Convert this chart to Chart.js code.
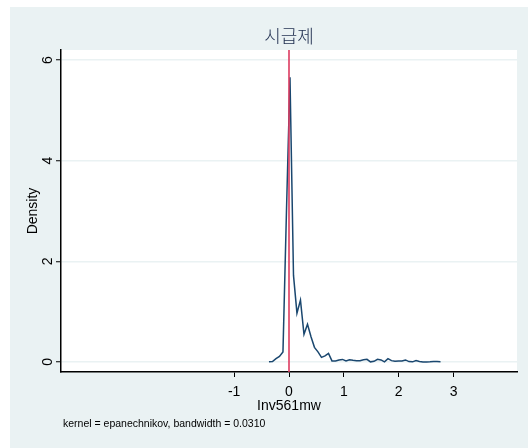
<!DOCTYPE html>
<html>
<head>
<meta charset="utf-8">
<script src="https://cdn.jsdelivr.net/npm/chart.js@4/dist/chart.umd.min.js"></script>
<style>
  html, body { margin: 0; padding: 0; background: #ffffff; }
  #c { display: block; }
</style>
</head>
<body>
<canvas id="c" width="528" height="448"></canvas>
<script>
// ---- data ----
const titleText = '시급제';
const xAxisTitle = 'Inv561mw';
const yAxisTitle = 'Density';
const noteText = 'kernel = epanechnikov, bandwidth = 0.0310';

const densityX = [-0.365, -0.301, -0.237, -0.174, -0.110, -0.046, 0.018, 0.082, 0.145, 0.209,
  0.273, 0.337, 0.401, 0.464, 0.528, 0.592, 0.656, 0.720, 0.783, 0.847,
  0.911, 0.975, 1.039, 1.102, 1.166, 1.230, 1.294, 1.358, 1.421, 1.485,
  1.549, 1.613, 1.677, 1.740, 1.804, 1.868, 1.932, 1.996, 2.059, 2.123,
  2.187, 2.251, 2.315, 2.378, 2.442, 2.506, 2.570, 2.634, 2.697, 2.761];
const densityY = [0.004, 0.008, 0.066, 0.11, 0.20, 3.0, 5.66, 1.72, 0.97, 1.23,
  0.55, 0.75, 0.50, 0.29, 0.20, 0.09, 0.12, 0.17, 0.02, 0.02,
  0.04, 0.05, 0.02, 0.045, 0.033, 0.026, 0.026, 0.045, 0.053, 0.002,
  0.013, 0.053, 0.04, 0.002, 0.066, 0.026, 0.013, 0.02, 0.02, 0.04,
  0.007, 0.002, 0.026, 0.007, 0.0, 0.0, 0.002, 0.007, 0.007, 0.004];

const xLineAt = [0];
const xTicks = [-1, 0, 1, 2, 3];
const xTickLabels = ['-1', '0', '1', '2', '3'];
const yTicks = [0, 2, 4, 6];
const yTickLabels = ['0', '2', '4', '6'];
const xRange = [-4.155, 4.155];
const yRange = [-0.2, 6.2];

// ---- styles ----
const FONT = "'Liberation Sans', Arial, Helvetica, sans-serif";
const OUTER_BG = '#eaf2f3';
const GRID = '#eaf2f3';
const LINE = '#1a476f';
const REDLINE = '#dc3a60';

const bgPlugin = {
  id: 'stataBg',
  beforeDraw(chart) {
    const ctx = chart.ctx;
    const a = chart.chartArea;
    ctx.save();
    ctx.fillStyle = '#ffffff';
    ctx.fillRect(0, 0, chart.width, chart.height);
    ctx.fillStyle = OUTER_BG;
    ctx.fillRect(10, 7, chart.width - 10, chart.height - 7);
    ctx.fillStyle = '#ffffff';
    ctx.fillRect(a.left, a.top, a.right - a.left, a.bottom - a.top);
    ctx.restore();
  },
  afterDraw(chart) {
    const ctx = chart.ctx;
    const a = chart.chartArea;
    ctx.save();
    // title, centred over the plot region
    ctx.fillStyle = '#1e2d4e';
    ctx.font = "300 18px 'Noto Sans CJK KR', sans-serif";
    ctx.textAlign = 'center';
    ctx.textBaseline = 'middle';
    ctx.fillText(titleText, (a.left + a.right) / 2, 36);
    // note
    ctx.fillStyle = '#000000';
    ctx.font = '10.5px ' + FONT;
    ctx.textAlign = 'left';
    ctx.textBaseline = 'middle';
    ctx.fillText(noteText, 63, 424);
    ctx.restore();
  }
};

const densityPoints = densityX.map((x, i) => ({ x: x, y: densityY[i] }));
const xLinePoints = [{ x: xLineAt[0], y: yRange[0] }, { x: xLineAt[0], y: yRange[1] }];

new Chart(document.getElementById('c'), {
  type: 'line',
  data: {
    datasets: [
      {
        label: 'density',
        data: densityPoints,
        borderColor: LINE,
        borderWidth: 1.5,
        pointRadius: 0,
        tension: 0,
        fill: false,
        order: 2
      },
      {
        label: 'xline',
        data: xLinePoints,
        borderColor: REDLINE,
        borderWidth: 1.6,
        pointRadius: 0,
        fill: false,
        order: 1
      }
    ]
  },
  options: {
    responsive: false,
    animation: false,
    devicePixelRatio: 1,
    layout: { padding: { left: 10, top: 50, right: 11, bottom: 0 } },
    plugins: {
      legend: { display: false },
      tooltip: { enabled: false },
      title: { display: false }
    },
    scales: {
      x: {
        type: 'linear',
        position: 'bottom',
        min: xRange[0],
        max: xRange[1],
        afterBuildTicks: s => { s.ticks = xTicks.map(v => ({ value: v })); },
        afterFit: s => { s.height = 76; },
        ticks: {
          autoSkip: false,
          maxRotation: 0,
          minRotation: 0,
          padding: 7,
          color: '#000000',
          font: { family: FONT, size: 14 },
          callback: v => xTickLabels[xTicks.indexOf(v)]
        },
        grid: {
          drawOnChartArea: false,
          drawTicks: true,
          tickLength: 5,
          tickColor: '#000000',
          tickWidth: 1
        },
        border: { display: true, color: '#000000', width: 1.5 },
        title: {
          display: true,
          text: xAxisTitle,
          color: '#000000',
          font: { family: FONT, size: 14, lineHeight: 1.2 },
          padding: { top: 0, bottom: 33 }
        }
      },
      y: {
        type: 'linear',
        min: yRange[0],
        max: yRange[1],
        afterBuildTicks: s => { s.ticks = yTicks.map(v => ({ value: v })); },
        afterFit: s => { s.width = 51; },
        ticks: {
          autoSkip: false,
          minRotation: 90,
          maxRotation: 90,
          crossAlign: 'center',
          padding: 3.6,
          color: '#000000',
          font: { family: FONT, size: 14 },
          callback: v => yTickLabels[yTicks.indexOf(v)]
        },
        grid: {
          color: GRID,
          lineWidth: 1.5,
          drawOnChartArea: true,
          drawTicks: true,
          tickLength: 5,
          tickColor: '#000000',
          tickWidth: 1
        },
        border: { display: true, color: '#000000', width: 1.5 },
        title: {
          display: true,
          text: yAxisTitle,
          color: '#000000',
          font: { family: FONT, size: 14, lineHeight: 1.2 },
          padding: { top: 14.6, bottom: 0 }
        }
      }
    }
  },
  plugins: [bgPlugin]
});
</script>
</body>
</html>
